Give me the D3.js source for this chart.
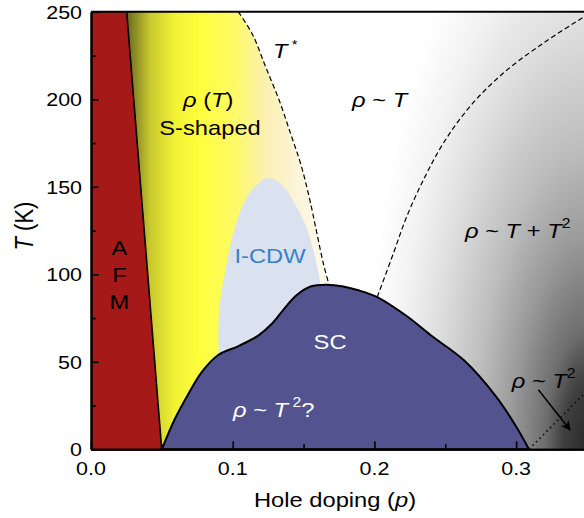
<!DOCTYPE html>
<html><head><meta charset="utf-8">
<script src="https://cdn.jsdelivr.net/npm/d3@7"></script>
<style>body{margin:0;background:#fff}svg{display:block}text{font-family:"Liberation Sans",Arial,Helvetica,sans-serif;white-space:pre}</style>
</head><body><svg id="c" width="584" height="518"></svg>
<script>
// ---- data (p = hole doping, T in K) ----
const xTickValues = [0, 0.1, 0.2, 0.3];
const xMinorTicks = [0.05, 0.15, 0.25];
const yTickValues = [0, 50, 100, 150, 200, 250];
const yMinorTicks = [25, 75, 125, 175, 225];
const afmBoundary = [[0.0252, 250], [0.0499, 0]];
const scDome = [[0.050,0],[0.059,17],[0.069,32],[0.078,44],[0.090,54],[0.104,59],[0.118,65],[0.128,72],[0.136,80],[0.145,88],[0.155,93],[0.166,94],[0.178,93],[0.188,91],[0.202,87],[0.223,76],[0.240,65],[0.263,51],[0.286,30],[0.300,13],[0.309,0]];
const icdwBoundary = [[0.090,40],[0.090,54],[0.0905,80],[0.0946,101],[0.0993,120],[0.1045,134],[0.110,144],[0.117,151],[0.124,155],[0.131,153.5],[0.138,148],[0.144,140],[0.152,127],[0.158,110],[0.162,94],[0.164,70],[0.150,40]];
const tStarLine = [[0.104,250],[0.114,237],[0.123,219],[0.133,199],[0.141,180],[0.148,163],[0.154,144],[0.159,125],[0.164,106],[0.168,94]];
const crossoverLine = [[0.202,87],[0.2134,112],[0.2228,133],[0.2346,154],[0.2487,175],[0.2675,196],[0.291,215],[0.319,232],[0.3475,247],[0.353,250]];
const fermiLiquidLine = [[0.309,0],[0.352,35]];
const arrowLine = [[0.3157,34],[0.3381,11]];

const SX = 1.13; // horizontal stretch of the original figure text
const svg = d3.select('#c');
const x = d3.scaleLinear().domain([0, 0.35]).range([91, 587]);
const y = d3.scaleLinear().domain([0, 250]).range([449.3, 11.8]);
const defs = svg.append('defs');
defs.append('clipPath').attr('id','plot').append('rect')
  .attr('x', x(0)).attr('y', y(250)).attr('width', x(0.35)-x(0)).attr('height', y(0)-y(250));

const rg = defs.append('radialGradient').attr('id','gray').attr('gradientUnits','userSpaceOnUse')
  .attr('cx',0).attr('cy',0).attr('r',225)
  .attr('gradientTransform',`translate(${x(0.352)},${y(-1)}) scale(1,2.7)`);
[[0,'#262626'],[0.12,'#404040'],[0.2,'#6e6e6e'],[0.35,'#9a9a9a'],[0.5,'#bdbdbd'],[0.7,'#dedede'],[0.85,'#f2f2f2'],[1,'#ffffff']]
  .forEach(([o,c])=>rg.append('stop').attr('offset',o).attr('stop-color',c));
const yg = defs.append('linearGradient').attr('id','yel').attr('gradientUnits','userSpaceOnUse')
  .attr('x1',127).attr('x2',330).attr('y1',0).attr('y2',0);
[[0,'#6a6a22'],[0.113,'#c8c82e'],[0.236,'#f2f236'],[0.36,'#ffff3c'],[0.53,'#fefa66'],[0.68,'#fbf0b0'],[0.85,'#fcf5dc'],[1,'#fffbee']]
  .forEach(([o,c])=>yg.append('stop').attr('offset',o).attr('stop-color',c));
const mk = defs.append('marker').attr('id','arr').attr('viewBox','0 0 10 10').attr('refX',9).attr('refY',5)
  .attr('markerWidth',12).attr('markerHeight',10).attr('markerUnits','userSpaceOnUse').attr('orient','auto');
mk.append('path').attr('d','M0,0 L10,5 L0,10 L3,5 Z').attr('fill','#000');

const g = svg.append('g').attr('clip-path','url(#plot)');
const lin = d3.line().x(d=>x(d[0])).y(d=>y(d[1]));
const smooth = d3.line().x(d=>x(d[0])).y(d=>y(d[1])).curve(d3.curveCatmullRom.alpha(0.5));
const smoothClosed = d3.line().x(d=>x(d[0])).y(d=>y(d[1])).curve(d3.curveCatmullRomClosed.alpha(0.5));

// background gray gradient
g.append('rect').attr('x',x(0)).attr('y',y(250)).attr('width',x(0.35)-x(0)).attr('height',y(0)-y(250)).attr('fill','url(#gray)');

// yellow S-shaped region
const tStarRev = tStarLine.slice().reverse();
const yelPath = `M${x(afmBoundary[0][0])},${y(afmBoundary[0][1])}L${x(afmBoundary[1][0])},${y(afmBoundary[1][1])}L${x(tStarRev[0][0])},${y(0)}` + smooth(tStarRev).replace(/^M/,'L') + 'Z';
g.append('path').attr('d', yelPath).attr('fill','url(#yel)');

// I-CDW
g.append('path').attr('d', smoothClosed(icdwBoundary)).attr('fill','#d9e2ee');

// AFM
g.append('path').attr('d', lin([[0,0],[0,250], ...afmBoundary])+'Z').attr('fill','#a51919');
g.append('path').attr('d', lin(afmBoundary)).attr('fill','none').attr('stroke','#000').attr('stroke-width',1.6);

// SC dome
g.append('path').attr('d', smooth(scDome)+'Z').attr('fill','#53538f').attr('stroke','#000').attr('stroke-width',2);

// dashed lines
[tStarLine, crossoverLine].forEach(l=>g.append('path').attr('d', smooth(l)).attr('fill','none')
  .attr('stroke','#000').attr('stroke-width',1.2).attr('stroke-dasharray','5,3'));
g.append('path').attr('d', lin(fermiLiquidLine)).attr('fill','none').attr('stroke','#111')
  .attr('stroke-width',1.7).attr('stroke-dasharray','1.6,3.4');
g.append('path').attr('d', lin(arrowLine)).attr('fill','none').attr('stroke','#000')
  .attr('stroke-width',1.5).attr('marker-end','url(#arr)');

// axes
const ax = svg.append('g').attr('class','axes');
ax.append('g').attr('transform',`translate(0,${y(0)})`)
  .call(d3.axisBottom(x).tickValues(xTickValues).tickSizeInner(-8).tickSizeOuter(0).tickFormat(''));
ax.append('g').attr('transform',`translate(0,${y(0)})`)
  .call(d3.axisBottom(x).tickValues(xMinorTicks).tickSizeInner(-5).tickSizeOuter(0).tickFormat(''));
ax.append('g').attr('transform',`translate(${x(0)},0)`)
  .call(d3.axisLeft(y).tickValues(yTickValues).tickSizeInner(-8).tickSizeOuter(0).tickFormat(''));
ax.append('g').attr('transform',`translate(${x(0)},0)`)
  .call(d3.axisLeft(y).tickValues(yMinorTicks).tickSizeInner(-5).tickSizeOuter(0).tickFormat(''));
ax.selectAll('.domain').attr('stroke','#000').attr('stroke-width',2);
ax.selectAll('.tick line').attr('stroke','#000').attr('stroke-width',1.6);
ax.append('line').attr('x1',x(0)).attr('x2',x(0.35)).attr('y1',y(250)).attr('y2',y(250)).attr('stroke','#000').attr('stroke-width',2);

// tick labels
const fmtX = d3.format('.1f');
ax.selectAll('text.xl').data(xTickValues).join('text').attr('class','xl')
  .attr('transform',d=>`translate(${x(d)},475) scale(${SX},1)`).attr('text-anchor','middle')
  .attr('font-size',19).text(fmtX);
ax.selectAll('text.yl').data(yTickValues).join('text').attr('class','yl')
  .attr('transform',d=>`translate(82,${y(d)+6.7}) scale(${SX},1)`).attr('text-anchor','end')
  .attr('font-size',19).text(d=>d);

// rich text helper
function rich(parent, px, py, parts, opt) {
  opt = opt || {};
  const size = opt.size || 21;
  const t = parent.append('text')
    .attr('transform', `translate(${px},${py})${opt.rot?` rotate(${opt.rot}) scale(1,${SX})`:` scale(${SX},1)`}`)
    .attr('font-size', size).attr('fill', opt.fill || '#000').attr('text-anchor', opt.anchor || 'start');
  let shift = 0;
  parts.forEach(p => {
    const s = t.append('tspan').text(p.t);
    if (p.i) s.attr('font-style','italic');
    if (p.sup) { s.attr('font-size', p.fs || 14).attr('dy', -p.sup - shift); shift = -p.sup; }
    else if (shift !== 0) { s.attr('dy', -shift); shift = 0; }
  });
  return t;
}
const lab = svg.append('g');
rich(lab, x(0.1285), y(223.6), [{t:'T',i:true},{t:' *',sup:9,fs:13}]);
rich(lab, x(0.0649), y(195.6), [{t:'ρ',i:true},{t:' ('},{t:'T',i:true},{t:')'}]);
rich(lab, x(0.084), y(179.6), [{t:'S-shaped'}], {anchor:'middle'});
rich(lab, x(0.1842), y(195.6), [{t:'ρ',i:true},{t:' ~ '},{t:'T',i:true}]);
rich(lab, x(0.2639), y(120.6), [{t:'ρ',i:true},{t:' ~ '},{t:'T',i:true},{t:' + '},{t:'T',i:true},{t:'2',sup:10}]);
[['A',111],['F',95.6],['M',80.2]].forEach(([s,T])=>rich(lab, x(0.0201), y(T), [{t:s}], {anchor:'middle'}));
rich(lab, x(0.1263), y(106.3), [{t:'I-CDW'}], {anchor:'middle', fill:'#3a80c8'});
rich(lab, x(0.1687), y(57.3), [{t:'SC'}], {anchor:'middle', fill:'#fff'});
rich(lab, x(0.1002), y(18.6), [{t:'ρ',i:true},{t:' ~ '},{t:'T',i:true},{t:' 2',sup:10},{t:'?'}], {fill:'#fff'});
rich(lab, x(0.2969), y(34.9), [{t:'ρ',i:true},{t:' ~ '},{t:'T',i:true},{t:'2',sup:10}]);

// axis titles
rich(lab, 335, 506.7, [{t:'Hole doping ('},{t:'p',i:true},{t:')'}], {anchor:'middle'});
rich(lab, 33, 226, [{t:'T',i:true},{t:' (K)'}], {anchor:'middle', rot:-90, size:22});
</script></body></html>
